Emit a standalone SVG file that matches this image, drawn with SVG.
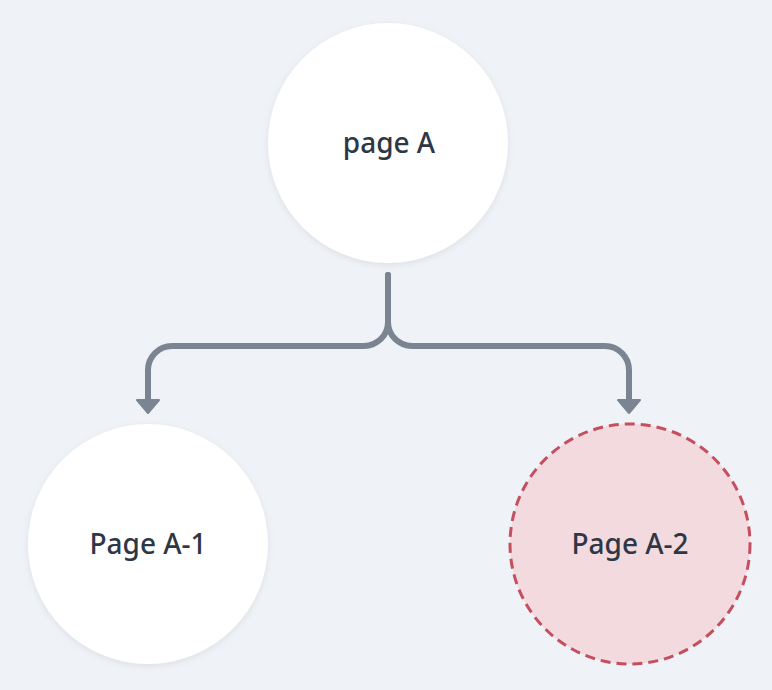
<svg xmlns="http://www.w3.org/2000/svg" width="772" height="690" viewBox="0 0 772 690">
<style>
.node{fill:#ffffff;filter:url(#sh)}
.lbl{font-family:"Noto Sans","Open Sans",sans-serif;font-size:28px;font-weight:500;fill:#2d3745;text-anchor:middle}
.edge{fill:none;stroke:#7a8591;stroke-width:6;stroke-linecap:round;stroke-linejoin:round}
</style>
<defs>
<filter id="sh" x="-20%" y="-20%" width="140%" height="140%">
<feDropShadow dx="0" dy="2" stdDeviation="3" flood-color="#8090a0" flood-opacity="0.18"/>
</filter>
</defs>
<rect width="772" height="690" fill="#eff2f6"/>
<g id="connectors">
<path class="edge" d="M388,275 V322 A24,24 0 0 1 364,346 H172 A24,24 0 0 0 148,370 V400"/>
<path class="edge" d="M388,275 V322 A24,24 0 0 0 412,346 H605 A24,24 0 0 1 629,370 V400"/>
<polygon points="137,400 159,400 148,413" fill="#7a8591" stroke="#7a8591" stroke-width="2" stroke-linejoin="round"/>
<polygon points="618,400 640,400 629,413" fill="#7a8591" stroke="#7a8591" stroke-width="2" stroke-linejoin="round"/>
</g>
<g id="pageA">
<circle class="node" cx="388" cy="143" r="120"/>
<text class="lbl" x="389" y="153">page A</text>
</g>
<g id="pageA1">
<circle class="node" cx="148" cy="544" r="120"/>
<text class="lbl" x="148" y="554">Page A-1</text>
</g>
<g id="pageA2">
<circle cx="630" cy="544" r="120" fill="#f2dadf" stroke="#c54f5f" stroke-width="3" stroke-dasharray="10 6"/>
<text class="lbl" x="630" y="554">Page A-2</text>
</g>
</svg>
